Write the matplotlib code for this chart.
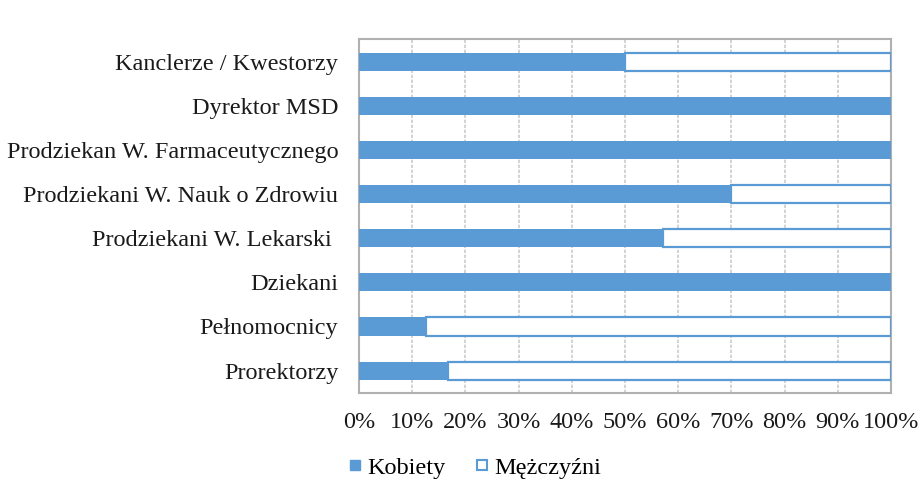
import matplotlib.pyplot as plt
from matplotlib.patches import Patch
from matplotlib.ticker import PercentFormatter

# Share of women and men in each function (percent), bottom to top
functions = ['Prorektorzy', 'Pełnomocnicy', 'Dziekani', 'Prodziekani W. Lekarski ',
             'Prodziekani W. Nauk o Zdrowiu', 'Prodziekan W. Farmaceutycznego',
             'Dyrektor MSD', 'Kanclerze / Kwestorzy']
kobiety = [16.7, 12.5, 100, 57.1, 70, 100, 100, 50]
mezczyzni = [100 - k for k in kobiety]

blue = '#5B9BD5'
plt.rcParams['font.family'] = ['Liberation Serif', 'DejaVu Serif']
plt.rcParams['font.size'] = 17.5

fig = plt.figure(figsize=(9.22, 4.84), dpi=100)
ax = fig.add_axes([0.3894, 0.1886, 0.577, 0.7298])

pos = range(len(functions))
ax.barh(pos, kobiety, height=0.41, color=blue, edgecolor='none', zorder=3)
ax.barh(pos, mezczyzni, left=kobiety, height=0.41, color='white',
        edgecolor=blue, linewidth=1.6, zorder=3)

ax.set_xlim(0, 100)
ax.set_ylim(-0.5, len(functions) - 0.5)
ax.set_xticks(range(0, 101, 10))
ax.xaxis.set_major_formatter(PercentFormatter(decimals=0))
ax.set_yticks(list(pos))
ax.set_yticklabels(functions)
ax.tick_params(length=0, colors='#1a1a1a')
ax.tick_params(axis='y', pad=15)
ax.tick_params(axis='x', pad=14)
ax.grid(axis='x', color='#cccccc', linestyle=(0, (2, 1)), linewidth=1.2, zorder=0)
for s in ax.spines.values():
    s.set_color('#b0b0b0')
    s.set_linewidth(1.5)

# small square legend keys
handles = [Patch(facecolor=blue, edgecolor=blue, label='Kobiety'),
           Patch(facecolor='white', edgecolor=blue, linewidth=1.5, label='Mężczyźni')]
fig.legend(handles=handles, loc='center', bbox_to_anchor=(0.516, 0.033), ncol=2,
           frameon=False, handlelength=0.42, handleheight=0.27, handletextpad=0.3,
           columnspacing=1.3, fontsize=17.5)

fig.savefig('out.png', dpi=100)
